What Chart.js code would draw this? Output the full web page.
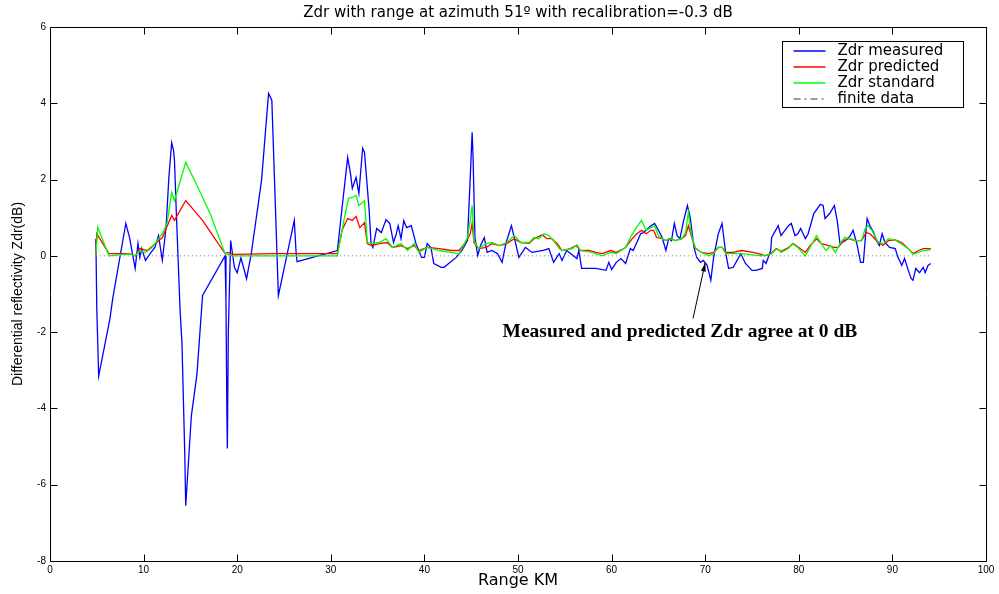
<!DOCTYPE html>
<html>
<head>
<meta charset="utf-8">
<title>Zdr with range</title>
<script src="https://cdn.jsdelivr.net/npm/chart.js@4.4.0/dist/chart.umd.min.js"></script>
<style>
html, body { margin: 0; padding: 0; background: #fff; }
</style>
</head>
<body>
<canvas id="main" width="999" height="594"></canvas>
<script>
// values (range in km, Zdr in dB)
var measuredRange = [4.9, 5.0, 5.2, 6.4, 6.7, 8.1, 8.5, 9.1, 9.4, 9.6, 9.8, 10.2, 10.7, 11.2, 11.6, 11.8, 12.0, 12.4, 12.7, 13.0,
	13.2, 13.3, 13.5, 13.9, 14.1, 14.4, 14.5, 15.1, 15.7, 16.3, 18.7, 18.8, 18.9, 18.95, 19.05, 19.3, 19.7, 20.0, 20.4, 21.0,
	21.5, 22.6, 23.35, 23.7, 24.4, 26.1, 26.3, 26.4, 30.7, 31.8, 32.1, 32.3, 32.7, 33.0, 33.4, 33.6, 34.1, 34.3, 34.5, 34.9,
	35.4, 35.9, 36.3, 36.7, 37.0, 37.2, 37.5, 37.8, 38.1, 38.6, 39.1, 39.7, 40.0, 40.3, 40.7, 41.0, 41.8, 42.1, 43.4, 44.0,
	44.6, 44.9, 45.1, 45.2, 45.4, 45.7, 46.0, 46.4, 46.7, 47.2, 47.8, 48.3, 48.7, 49.3, 49.6, 50.1, 50.8, 51.5, 52.8, 53.3,
	53.8, 54.4, 54.7, 55.2, 56.3, 56.5, 56.8, 58.3, 59.4, 59.7, 60.0, 60.5, 61.0, 61.5, 62.0, 62.3, 62.7, 63.1, 63.4, 64.2,
	64.6, 65.0, 65.4, 65.8, 66.1, 66.4, 66.7, 67.0, 67.3, 67.7, 68.1, 68.4, 68.8, 69.1, 69.5, 69.8, 70.2, 70.6, 70.9, 71.4,
	71.8, 72.2, 72.5, 73.0, 73.8, 74.3, 75.0, 75.4, 76.1, 76.2, 76.5, 77.0, 77.1, 77.8, 78.1, 78.9, 79.2, 79.6, 79.9, 80.2,
	80.7, 81.0, 81.6, 82.3, 82.6, 82.8, 83.3, 83.8, 84.1, 84.4, 85.0, 85.5, 85.8, 86.2, 86.6, 86.9, 87.1, 87.3, 87.6, 88.0,
	88.3, 88.6, 88.9, 89.2, 89.7, 90.3, 90.6, 91.0, 91.3, 91.7, 92.0, 92.2, 92.5, 92.9, 93.3, 93.5, 93.8, 94.1];
var measuredZdr = [0.45, -1.4, -3.15, -1.65, -1.12, 0.85, 0.48, -0.33, 0.33, -0.04, 0.19, -0.12, 0.06, 0.22, 0.53, 0.2, -0.12, 0.75, 2.06, 2.97,
	2.76, 2.5, 1.11, -1.44, -2.3, -5.2, -6.55, -4.2, -3.1, -1.04, 0.0, -1.2, -4.2, -5.05, -2.0, 0.4, -0.3, -0.44, -0.05, -0.6,
	0.05, 1.98, 4.26, 4.08, -1.04, 0.93, 0.05, -0.15, 0.14, 2.58, 2.16, 1.77, 2.06, 1.63, 2.82, 2.71, 1.19, 0.33, 0.22, 0.72,
	0.61, 0.95, 0.85, 0.35, 0.58, 0.79, 0.45, 0.92, 0.74, 0.79, 0.32, -0.04, -0.04, 0.32, 0.22, -0.2, -0.3, -0.3, -0.04, 0.14,
	0.4, 2.06, 3.24, 2.58, 0.48, 0.01, 0.27, 0.48, 0.09, 0.14, 0.06, -0.17, 0.32, 0.79, 0.48, -0.04, 0.22, 0.09, 0.15, 0.19,
	-0.17, 0.06, -0.12, 0.14, -0.07, 0.14, -0.33, -0.33, -0.38, -0.17, -0.36, -0.17, -0.07, -0.2, 0.19, 0.14, 0.35, 0.58, 0.61, 0.79,
	0.85, 0.67, 0.48, 0.14, 0.45, 0.4, 0.85, 0.53, 0.45, 0.93, 1.32, 1.01, 0.22, -0.04, -0.17, -0.12, -0.25, -0.64, -0.04, 0.58,
	0.85, 0.06, -0.33, -0.3, 0.06, -0.2, -0.38, -0.38, -0.33, -0.12, -0.2, 0.14, 0.48, 0.79, 0.53, 0.79, 0.85, 0.53, 0.58, 0.72,
	0.45, 0.58, 1.11, 1.35, 1.32, 0.98, 1.11, 1.32, 0.93, 0.32, 0.4, 0.53, 0.67, 0.32, -0.17, -0.17, 0.45, 0.98, 0.79, 0.61,
	0.4, 0.27, 0.58, 0.35, 0.22, 0.19, -0.04, -0.25, -0.07, -0.38, -0.59, -0.64, -0.33, -0.44, -0.3, -0.44, -0.25, -0.2];

var predictedRange = [4.9, 5.0, 6.3, 8.5, 9.1, 9.6, 10.4, 12.0, 13.0, 13.3, 14.5, 16.3, 17.4, 18.7, 19.0, 19.5, 24.0, 26.0, 30.7, 31.2,
	31.8, 32.3, 32.7, 33.1, 33.6, 33.9, 34.3, 35.2, 36.0, 36.6, 37.5, 38.2, 38.9, 39.4, 40.3, 41.6, 42.9, 43.7, 44.4, 44.9,
	45.1, 45.3, 45.8, 46.6, 47.2, 48.0, 48.8, 49.6, 50.3, 51.2, 51.7, 52.6, 53.1, 53.6, 54.2, 54.7, 55.6, 56.2, 56.7, 57.6,
	58.3, 59.0, 59.9, 60.5, 61.5, 62.2, 62.7, 63.2, 63.7, 64.2, 64.5, 64.8, 65.4, 65.8, 66.3, 66.8, 67.5, 67.9, 68.2, 68.6,
	69.0, 69.6, 70.4, 70.9, 71.4, 71.8, 72.2, 73.0, 73.9, 75.1, 76.0, 76.4, 77.0, 77.6, 78.1, 78.9, 79.4, 80.0, 80.7, 81.2,
	81.9, 82.4, 83.2, 83.7, 84.2, 84.8, 85.3, 86.0, 86.7, 87.2, 87.6, 88.0, 88.5, 89.0, 89.6, 90.3, 91.0, 91.7, 92.2, 92.8,
	93.3, 93.8, 94.1];
var predictedZdr = [0.0, 0.58, 0.06, 0.06, 0.0, 0.19, 0.14, 0.48, 1.06, 0.93, 1.45, 0.93, 0.53, 0.06, 0.09, 0.04, 0.06, 0.06, 0.06, 0.67,
	0.98, 0.93, 1.03, 0.74, 0.87, 0.32, 0.27, 0.32, 0.35, 0.22, 0.27, 0.19, 0.27, 0.14, 0.22, 0.19, 0.14, 0.14, 0.35, 0.58,
	0.85, 0.35, 0.19, 0.22, 0.32, 0.27, 0.32, 0.45, 0.35, 0.33, 0.45, 0.55, 0.45, 0.45, 0.32, 0.14, 0.19, 0.27, 0.14, 0.14,
	0.09, 0.06, 0.14, 0.09, 0.22, 0.45, 0.58, 0.67, 0.58, 0.67, 0.67, 0.48, 0.45, 0.4, 0.45, 0.4, 0.45, 0.53, 0.79, 0.45,
	0.19, 0.09, 0.06, 0.09, 0.22, 0.22, 0.09, 0.09, 0.14, 0.09, 0.04, 0.0, 0.06, 0.19, 0.12, 0.22, 0.32, 0.22, 0.09, 0.27,
	0.45, 0.32, 0.27, 0.22, 0.22, 0.4, 0.45, 0.4, 0.4, 0.61, 0.58, 0.48, 0.35, 0.27, 0.4, 0.42, 0.35, 0.19, 0.06, 0.14,
	0.19, 0.19, 0.19];

var standardRange = [4.9, 5.1, 6.3, 8.5, 9.1, 9.6, 10.2, 10.9, 12.0, 12.5, 13.0, 13.3, 14.5, 15.8, 17.1, 18.7, 19.5, 30.7, 31.4, 31.9,
	32.3, 32.7, 33.0, 33.6, 33.9, 34.4, 35.2, 35.9, 36.6, 37.5, 38.2, 38.9, 39.4, 40.3, 41.6, 42.9, 43.7, 44.6, 44.9, 45.1,
	45.3, 45.8, 46.6, 47.2, 48.0, 48.8, 49.6, 50.3, 51.2, 51.7, 52.2, 52.8, 53.3, 53.8, 54.4, 54.7, 55.8, 56.3, 56.7, 57.9,
	59.0, 59.9, 60.5, 61.5, 62.0, 62.6, 63.2, 63.7, 64.2, 64.6, 65.0, 65.4, 65.8, 66.3, 66.8, 67.5, 67.9, 68.2, 68.5, 68.9,
	69.6, 70.4, 70.9, 71.4, 71.8, 72.2, 73.0, 73.9, 76.0, 77.0, 77.7, 78.1, 78.9, 79.3, 79.9, 80.7, 81.2, 81.9, 82.4, 82.9,
	83.4, 83.9, 84.4, 84.9, 85.5, 86.1, 86.7, 87.1, 87.4, 87.8, 88.5, 89.0, 89.6, 90.4, 91.2, 91.7, 92.2, 92.8, 93.3, 94.1];
var standardZdr = [0.0, 0.75, 0.0, 0.05, 0.0, 0.14, 0.09, 0.22, 0.58, 0.85, 1.66, 1.45, 2.45, 1.8, 1.11, 0.06, 0.0, 0.0, 0.93, 1.51,
	1.53, 1.59, 1.32, 1.45, 0.35, 0.32, 0.35, 0.45, 0.22, 0.32, 0.14, 0.32, 0.09, 0.22, 0.14, 0.09, 0.05, 0.48, 0.93, 1.32,
	0.4, 0.19, 0.32, 0.35, 0.27, 0.35, 0.53, 0.35, 0.35, 0.48, 0.45, 0.58, 0.53, 0.4, 0.19, 0.14, 0.19, 0.29, 0.14, 0.09,
	0.0, 0.09, 0.06, 0.22, 0.48, 0.72, 0.93, 0.67, 0.74, 0.79, 0.53, 0.45, 0.4, 0.45, 0.4, 0.45, 0.61, 1.14, 0.58, 0.22,
	0.09, 0.0, 0.06, 0.22, 0.22, 0.06, 0.06, 0.06, 0.0, 0.04, 0.19, 0.09, 0.19, 0.32, 0.22, 0.0, 0.22, 0.53, 0.32, 0.14,
	0.27, 0.09, 0.32, 0.48, 0.45, 0.4, 0.4, 0.72, 0.79, 0.67, 0.35, 0.32, 0.45, 0.4, 0.27, 0.19, 0.04, 0.09, 0.14, 0.16];

var finiteRange = [4.9, 94.1];
var finiteZdr = [0, 0];

var seriesLabels = ['Zdr measured', 'Zdr predicted', 'Zdr standard', 'finite data'];
var xTickValues = [0, 10, 20, 30, 40, 50, 60, 70, 80, 90, 100];
var yTickValues = [-8, -6, -4, -2, 0, 2, 4, 6];

var annotationText = 'Measured and predicted Zdr agree at 0 dB';
var annotationAt = [67.3, -2.0];
var arrowFrom = [68.7, -1.64];
var arrowTo = [70.0, -0.18];

function toPoints(xs, ys){
	return xs.map(function(x, i){
		return {x: x, y: ys[i]};
	});
}

function useTicks(values){
	return function(scale){
		scale.ticks = values.map(function(v){ return {value: v}; });
	};
}

// box, inward ticks on all four sides (matlab style axes)
var matlabAxes = {
	id: 'matlabAxes',
	afterDatasetsDraw: function(chart){
		var ctx = chart.ctx,
			area = chart.chartArea,
			xScale = chart.scales.x,
			yScale = chart.scales.y,
			len = 7;
		var l = Math.round(area.left) + 0.5, r = Math.round(area.right) + 0.5,
			t = Math.round(area.top) + 0.5, b = Math.round(area.bottom) + 0.5;
		ctx.save();
		ctx.strokeStyle = '#000';
		ctx.lineWidth = 1;
		ctx.beginPath();
		ctx.rect(l, t, r - l, b - t);
		for (var i=0; i<xTickValues.length; i++){
			var px = Math.round(xScale.getPixelForValue(xTickValues[i])) + 0.5;
			ctx.moveTo(px, b);
			ctx.lineTo(px, b - len);
			ctx.moveTo(px, t);
			ctx.lineTo(px, t + len);
		}
		for (var j=0; j<yTickValues.length; j++){
			var py = Math.round(yScale.getPixelForValue(yTickValues[j])) + 0.5;
			ctx.moveTo(l, py);
			ctx.lineTo(l + len, py);
			ctx.moveTo(r, py);
			ctx.lineTo(r - len, py);
		}
		ctx.stroke();
		ctx.restore();
	}
};

// legend in a box inside the plot, top right
var boxedLegend = {
	id: 'boxedLegend',
	afterDraw: function(chart, args, opts){
		var ctx = chart.ctx,
			area = chart.chartArea,
			sets = chart.data.datasets;
		var right = Math.round(area.right - opts.right) + 0.5,
			top = Math.round(area.top + opts.top) + 0.5,
			left = right - opts.width,
			height = opts.rowHeight * sets.length + 2;
		ctx.save();
		ctx.fillStyle = '#fff';
		ctx.fillRect(left, top, opts.width, height);
		ctx.strokeStyle = '#000';
		ctx.lineWidth = 1;
		ctx.strokeRect(left, top, opts.width, height);
		ctx.font = opts.font;
		ctx.textBaseline = 'middle';
		ctx.fillStyle = '#000';
		for (var i=0; i<sets.length; i++){
			var ds = sets[i];
			var y = Math.round(top + 1 + opts.rowHeight * (i + 0.5));
			ctx.beginPath();
			ctx.strokeStyle = ds.borderColor;
			ctx.lineWidth = 1.5;
			ctx.setLineDash(ds.legendDash || []);
			ctx.moveTo(left + 11, y);
			ctx.lineTo(left + 43, y);
			ctx.stroke();
			ctx.setLineDash([]);
			ctx.fillText(ds.label, left + 55, y);
		}
		ctx.restore();
	}
};

// text with an arrow pointing at the zero line
var noteArrow = {
	id: 'noteArrow',
	afterDraw: function(chart){
		var ctx = chart.ctx,
			xScale = chart.scales.x,
			yScale = chart.scales.y;
		var x0 = xScale.getPixelForValue(arrowFrom[0]), y0 = yScale.getPixelForValue(arrowFrom[1]),
			x1 = xScale.getPixelForValue(arrowTo[0]), y1 = yScale.getPixelForValue(arrowTo[1]);
		var ang = Math.atan2(y1 - y0, x1 - x0),
			head = 9, spread = 0.28;
		ctx.save();
		ctx.strokeStyle = '#000';
		ctx.fillStyle = '#000';
		ctx.lineWidth = 1;
		ctx.beginPath();
		ctx.moveTo(x0, y0);
		ctx.lineTo(x1, y1);
		ctx.stroke();
		ctx.beginPath();
		ctx.moveTo(x1, y1);
		ctx.lineTo(x1 - head * Math.cos(ang - spread), y1 - head * Math.sin(ang - spread));
		ctx.lineTo(x1 - head * Math.cos(ang + spread), y1 - head * Math.sin(ang + spread));
		ctx.closePath();
		ctx.fill();
		ctx.font = 'bold 19.5px "Liberation Serif", "Times New Roman", serif';
		ctx.textAlign = 'center';
		ctx.textBaseline = 'middle';
		ctx.fillText(annotationText, xScale.getPixelForValue(annotationAt[0]), yScale.getPixelForValue(annotationAt[1]));
		ctx.restore();
	}
};

var lineBase = {showLine: true, pointRadius: 0, pointHoverRadius: 0, borderWidth: 1.3, tension: 0, fill: false};

var canvas = document.getElementById('main');
var ctx = canvas.getContext('2d');

var chart = new Chart(ctx, {
	type: 'scatter',
	data: {
		datasets: [
			Object.assign({}, lineBase, {label: seriesLabels[0], data: toPoints(measuredRange, measuredZdr), borderColor: '#0000ff', order: 4}),
			Object.assign({}, lineBase, {label: seriesLabels[1], data: toPoints(predictedRange, predictedZdr), borderColor: '#ff0000', order: 3}),
			Object.assign({}, lineBase, {label: seriesLabels[2], data: toPoints(standardRange, standardZdr), borderColor: '#00ff00', order: 2}),
			Object.assign({}, lineBase, {label: seriesLabels[3], data: toPoints(finiteRange, finiteZdr), borderColor: '#7a7a7a',
				borderWidth: 1, borderDash: [1, 3], legendDash: [7, 4, 2, 4], order: 1})
		]
	},
	options: {
		responsive: false,
		animation: false,
		layout: {padding: {left: 0, right: 13, top: 0, bottom: 0}},
		plugins: {
			legend: {display: false},
			tooltip: {enabled: false},
			title: {
				display: true,
				fullSize: false,
				text: 'Zdr with range at azimuth 51\u00ba with recalibration=-0.3 dB',
				color: '#000',
				font: {family: '"DejaVu Sans", sans-serif', size: 15, weight: 'normal'},
				padding: {top: 4, bottom: 5}
			},
			boxedLegend: {right: 23, top: 14, width: 181, rowHeight: 16, font: '15px "DejaVu Sans", sans-serif'}
		},
		scales: {
			x: {
				type: 'linear',
				min: 0,
				max: 100,
				afterBuildTicks: useTicks(xTickValues),
				afterFit: function(scale){ scale.height = 33; },
				grid: {display: false, drawTicks: false},
				border: {display: false},
				ticks: {color: '#000', padding: 3, maxRotation: 0, font: {family: '"Liberation Sans", Arial, sans-serif', size: 10}},
				title: {display: true, text: 'Range KM', color: '#000', padding: {top: 0, bottom: 4},
					font: {family: '"DejaVu Sans", sans-serif', size: 16}}
			},
			y: {
				type: 'linear',
				min: -8,
				max: 6,
				afterBuildTicks: useTicks(yTickValues),
				afterFit: function(scale){ scale.width = 50; },
				grid: {display: false, drawTicks: false},
				border: {display: false},
				ticks: {color: '#000', padding: 4, font: {family: '"Liberation Sans", Arial, sans-serif', size: 10}},
				title: {display: true, text: 'Differential reflectivity Zdr(dB)', color: '#000', padding: {top: 10, bottom: 0},
					font: {family: '"Liberation Sans", Arial, sans-serif', size: 14}}
			}
		}
	},
	plugins: [matlabAxes, boxedLegend, noteArrow]
});
</script>
</body>
</html>
